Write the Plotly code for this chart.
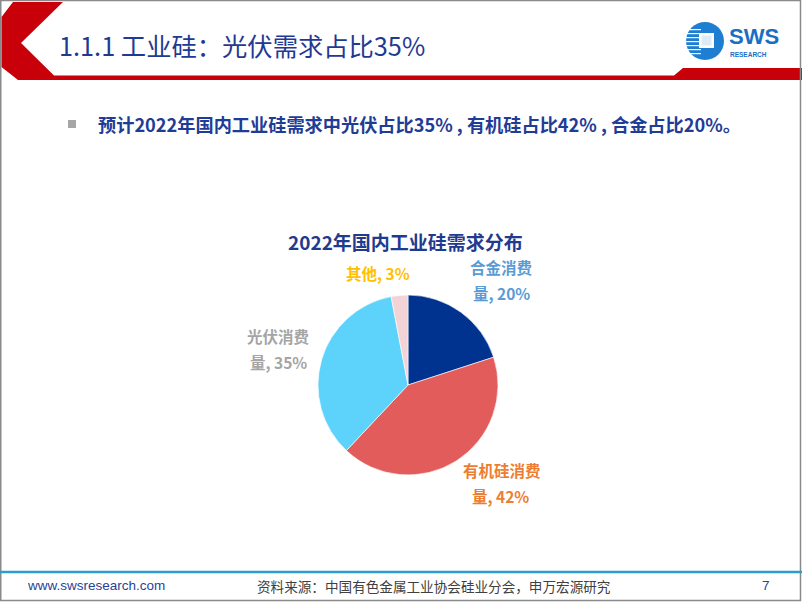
import plotly.graph_objects as go

W, H = 802, 602

# ---- data ----
labels = ["合金消费量", "有机硅消费量", "光伏消费量", "其他"]
values = [20, 42, 35, 3]
slice_colors = ["#00338F", "#E35C5C", "#5DD3FC", "#F3D3D6"]
label_colors = ["#5B9BD5", "#ED7D31", "#A5A5A5", "#FFC000"]

header_title = "1.1.1 工业硅：光伏需求占比35%"
bullet_text = "预计2022年国内工业硅需求中光伏占比35% , 有机硅占比42% , 合金占比20%。"
chart_title = "2022年国内工业硅需求分布"
site_text = "www.swsresearch.com"
source_text = "资料来源：中国有色金属工业协会硅业分会，申万宏源研究"
page_no = "7"


def px(x):
    return x / W


def py(y):
    return 1 - y / H


CJK = "Noto Sans CJK SC"
NAVY = "#1F3A93"

fig = go.Figure()

cx, cy, r = 408, 385, 90
fig.add_trace(go.Pie(
    labels=labels, values=values, sort=False, direction="clockwise", rotation=0,
    marker=dict(colors=slice_colors, line=dict(color="white", width=0.6)),
    textinfo="none", hoverinfo="label+percent", showlegend=False,
    domain=dict(x=[px(cx - r), px(cx + r)], y=[py(cy + r), py(cy - r)]),
))

annotations = []


def add_text(text, x, y, size, color, weight="normal", family=CJK, xanchor="center"):
    annotations.append(dict(
        text=text, x=px(x), y=py(y), xref="paper", yref="paper",
        xanchor=xanchor, yanchor="middle", showarrow=False,
        font=dict(size=size, color=color, family=family, weight=weight),
    ))


# slice labels (two-line Office-style wrap)
label_pos = [
    [(501, 267), (501, 293)],
    [(502, 470), (500, 496)],
    [(278, 336), (278, 362)],
    [(378, 273)],
]
for lab, v, col, pos in zip(labels, values, label_colors, label_pos):
    if len(pos) == 1:
        add_text(f"{lab}, {v}%", pos[0][0], pos[0][1], 15.5, col, "bold")
    else:
        add_text(lab[:-1], pos[0][0], pos[0][1], 15.5, col, "bold")
        add_text(f"{lab[-1]}, {v}%", pos[1][0], pos[1][1], 15.5, col, "bold")

# texts
add_text(header_title, 57, 45, 25.3, NAVY, "normal", xanchor="left")
add_text(bullet_text, 96, 124, 18.2, "#1F3C96", "bold", xanchor="left")
add_text(chart_title, 405, 241, 19, "#1F3B8F", "bold")
add_text(site_text, 25, 585, 13.5, "#2B3F94", family="Liberation Sans", xanchor="left")
add_text(source_text, 434, 586, 13.6, "#404040")
add_text(page_no, 766, 585, 13.5, "#2B3F94", family="Liberation Sans")
# logo text
add_text("SWS", 727, 36.5, 22, "#1A6FC4", "bold", family="Liberation Sans", xanchor="left")
add_text("RESEARCH", 728, 54, 6.5, "#1A6FC4", "bold", family="Liberation Sans", xanchor="left")

shapes = []


def path(points):
    s = "M " + " L ".join(f"{px(x):.5f},{py(y):.5f}" for x, y in points) + " Z"
    return s


# red chevron + bar
shapes.append(dict(type="path", xref="paper", yref="paper",
                   path=path([(13, 2), (63, 2), (21, 43), (54, 75.5), (674, 75.5), (683, 68),
                              (802, 68), (802, 80), (18, 80), (1.5, 67), (1.5, 17)]),
                   fillcolor="#C8000A", line=dict(width=0)))
# slide border
shapes.append(dict(type="rect", xref="paper", yref="paper",
                   x0=px(0.75), x1=px(800.5), y0=py(600.5), y1=py(0.5),
                   line=dict(color="#8A8A8A", width=1.5), fillcolor="rgba(0,0,0,0)"))
# footer line
shapes.append(dict(type="line", xref="paper", yref="paper",
                   x0=0, x1=1, y0=py(572), y1=py(572),
                   line=dict(color="#2A9FC9", width=2.5)))
# bullet square
shapes.append(dict(type="rect", xref="paper", yref="paper",
                   x0=px(68), x1=px(76), y0=py(128), y1=py(120),
                   fillcolor="#A6A6A6", line=dict(width=0)))
# logo disk
shapes.append(dict(type="circle", xref="paper", yref="paper",
                   x0=px(686), x1=px(724), y0=py(60), y1=py(22),
                   fillcolor="#1E7FD2", line=dict(width=0)))
for yy in [29, 33, 37, 41, 45, 49, 53]:
    shapes.append(dict(type="rect", xref="paper", yref="paper",
                       x0=px(684), x1=px(701), y0=py(yy + 1.2), y1=py(yy),
                       fillcolor="white", line=dict(width=0)))
shapes.append(dict(type="rect", xref="paper", yref="paper",
                   x0=px(699), x1=px(714), y0=py(48), y1=py(33),
                   fillcolor="white", line=dict(width=0)))
shapes.append(dict(type="rect", xref="paper", yref="paper",
                   x0=px(701.5), x1=px(711.5), y0=py(45.5), y1=py(35.5),
                   fillcolor="#DDEBF7", line=dict(width=0)))

fig.update_layout(
    width=W, height=H, margin=dict(l=0, r=0, t=0, b=0),
    paper_bgcolor="white", plot_bgcolor="white",
    annotations=annotations, shapes=shapes,
)

fig.write_html("out.html")
